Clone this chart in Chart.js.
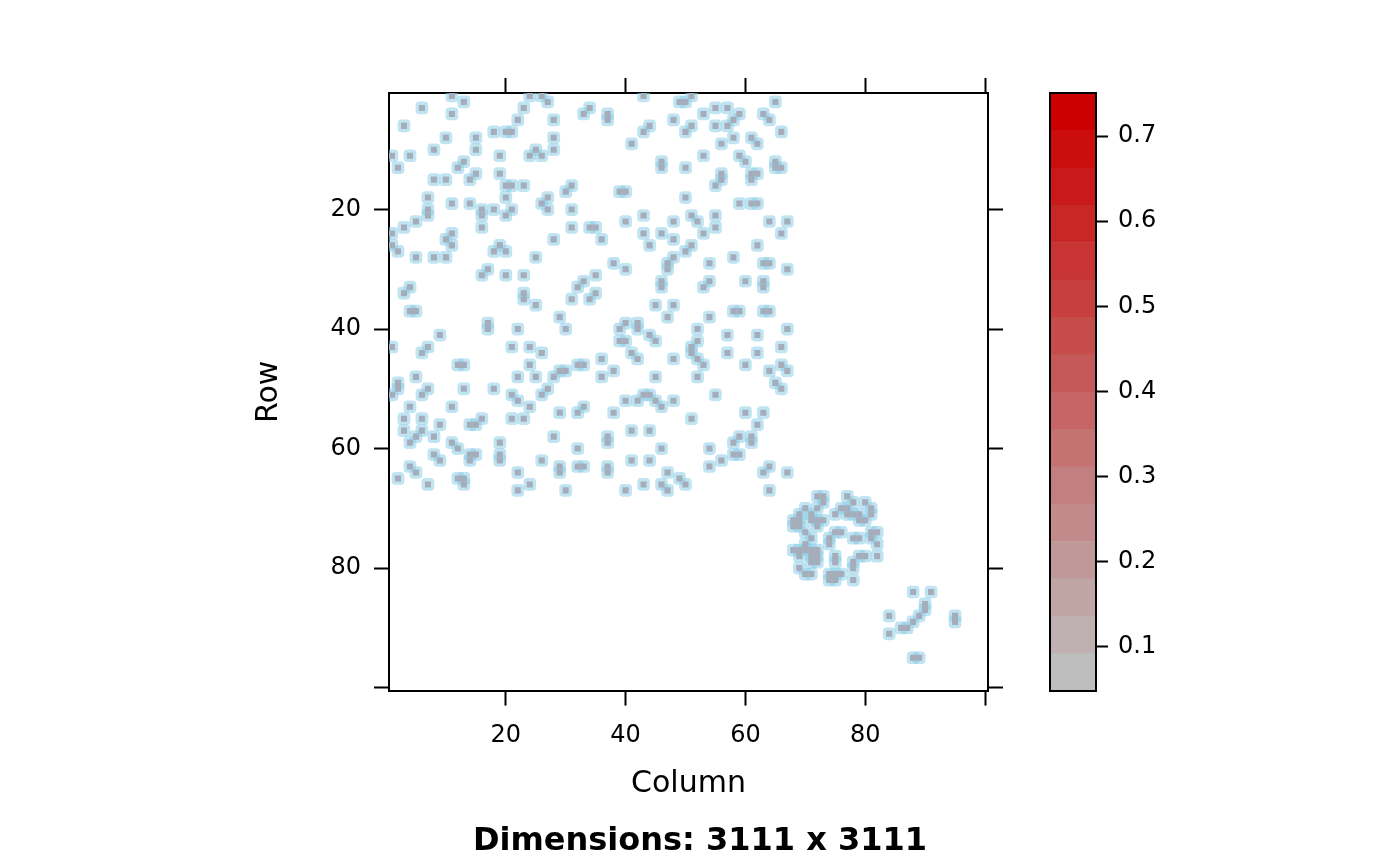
<!DOCTYPE html>
<html>
<head>
<meta charset="utf-8">
<script src="https://cdn.jsdelivr.net/npm/chart.js@4.4.1/dist/chart.umd.min.js"></script>
<style>
  body { margin: 0; background: #fff; }
  #wrap { position: relative; width: 1400px; height: 866px; }
  #matrixChart { position: absolute; left: 0; top: 0; }
  #keyChart { position: absolute; left: 1000px; top: 0; }
</style>
</head>
<body>
<div id="wrap">
  <canvas id="matrixChart" width="1400" height="866"></canvas>
  <canvas id="keyChart" width="200" height="866"></canvas>
</div>
<script>
// axis ticks (rows and columns share them)
const axisTicks = [20, 40, 60, 80, 100];
const axisTickLabels = ['20', '40', '60', '80', ''];

// colour key
const keyBreaks = [0.0483, 0.0922, 0.1361, 0.1800, 0.2238, 0.2677, 0.3116, 0.3555, 0.3994,
  0.4433, 0.4872, 0.5311, 0.5750, 0.6188, 0.6627, 0.7066, 0.7505];
const keyTicks = [0.1, 0.2, 0.3, 0.4, 0.5, 0.6, 0.7];

// non-zero cells as [column, row]
const upperBlock = [
  [11,1],[13,2],[6,3],[11,4],[23,3],[22,5],[3,6],[18,7],[20,7],[21,7],[10,8],[15,8],[8,10],[15,10],
  [1,11],[4,11],[19,11],[2,13],[13,12],[12,13],[15,14],[19,14],[8,15],[10,15],[14,15],[20,16],[21,16],
  [23,16],[7,18],[20,18],[11,19],[14,19],[7,20],[7,21],[16,20],[16,21],[18,20],[21,20],[20,21],[5,22],
  [3,23],[16,23],
  [24,1],[26,1],[27,2],[43,1],[33,4],[34,3],[37,4],[37,5],[28,5],[44,6],[43,7],[28,8],[41,9],[28,10],
  [25,10],[24,11],[26,11],[46,12],[46,13],[31,16],[30,17],[39,17],[40,17],[27,18],[26,19],[27,20],
  [31,20],[43,21],[40,22],[31,23],[34,23],[35,23],
  [49,2],[50,2],[51,1],[65,2],[48,5],[53,4],[55,3],[57,3],[59,4],[58,5],[63,4],[64,5],[51,6],[50,7],
  [55,6],[57,6],[66,7],[58,8],[61,8],[62,9],[56,9],[53,11],[59,11],[60,12],[65,12],[65,13],[66,13],
  [50,13],[56,14],[56,15],[55,16],[61,14],[62,14],[61,15],[50,18],[59,19],[61,19],[62,19],[48,22],
  [51,21],[52,22],[55,21],[55,23],[64,22],[67,22]
];
const middleBlock = [
  [1,24],[1,26],[2,27],[10,25],[11,24],[11,26],[5,28],[8,28],[10,28],[19,26],[18,27],[20,27],[17,30],
  [16,31],[20,31],[23,31],[4,33],[3,34],[23,34],[23,35],[4,37],[5,37],[17,39],[17,40],[22,40],[9,41],
  [1,43],[7,43],[6,44],[21,43],[12,46],[13,46],
  [28,25],[36,25],[43,24],[46,24],[44,26],[25,28],[38,29],[40,30],[35,31],[33,32],[32,33],[35,34],
  [34,35],[31,35],[25,36],[46,32],[46,33],[45,36],[29,38],[30,40],[40,39],[39,40],[42,39],[42,40],
  [44,41],[45,42],[39,42],[40,42],[24,43],[26,44],[41,44],[42,45],[36,45],[24,46],[32,46],[33,46],
  [48,25],[53,24],[66,24],[51,26],[50,27],[62,26],[48,28],[47,29],[47,30],[58,28],[54,29],[63,29],
  [64,29],[67,30],[54,32],[53,33],[60,32],[63,32],[63,33],[48,36],[47,38],[54,38],[58,37],[59,37],
  [63,37],[64,37],[52,40],[67,40],[57,41],[62,41],[52,42],[51,43],[51,44],[52,45],[53,46],[66,43],
  [57,44],[62,44],[48,45],[60,46],[66,46]
];
const lowerBlock = [
  [5,48],[2,49],[2,50],[1,51],[7,50],[6,51],[13,50],[18,50],[22,48],[21,51],[22,52],[4,53],[11,53],
  [3,55],[3,57],[6,55],[6,57],[9,56],[14,56],[15,56],[16,55],[21,55],[23,55],[5,58],[4,59],[8,58],
  [11,59],[12,60],[19,59],[19,61],[19,62],[8,61],[9,62],[14,61],[15,61],[14,62],[4,63],[5,64],[2,65],
  [12,65],[13,65],[13,66],[7,66],[22,64],[22,67],
  [25,48],[28,48],[29,47],[30,47],[36,48],[38,47],[45,48],[27,50],[26,51],[40,52],[42,52],[43,51],
  [44,51],[45,52],[46,53],[24,53],[29,54],[32,54],[33,53],[38,54],[41,57],[44,57],[28,58],[37,58],
  [37,59],[32,60],[46,60],[26,62],[29,63],[29,64],[32,63],[33,63],[37,63],[37,64],[41,62],[44,62],
  [24,66],[30,67],[40,67],[43,66],[46,66],
  [64,47],[67,47],[52,48],[65,49],[66,50],[55,51],[48,52],[51,55],[60,54],[63,54],[62,56],[59,58],
  [58,59],[61,58],[61,59],[58,61],[59,61],[54,60],[56,62],[54,63],[47,64],[49,65],[50,66],[47,67],
  [64,63],[63,64],[67,64],[64,67]
];
const clusterBlock = [
  [72,68],[73,68],[73,69],[72,70],[71,71],[70,70],[69,71],[68,72],[69,72],[68,73],[69,73],[71,72],
  [72,72],[73,72],[72,73],[70,74],
  [77,68],[78,69],[80,69],[81,70],[76,70],[77,70],[75,71],[77,71],[78,71],[79,71],[81,71],[79,72],[80,72],
  [74,75],[75,74],[76,74],[74,76],[78,75],[79,75],[81,74],[82,74],[81,75],[82,76],
  [71,75],[70,76],[68,77],[69,77],[70,77],[71,77],[72,77],[69,78],[71,78],[72,78],[71,79],[72,79],
  [69,80],[70,81],[71,81],
  [75,78],[75,79],[74,81],[75,81],[76,81],[74,82],[75,82],
  [79,78],[80,78],[82,78],[78,79],[78,80],[78,82]
];
const tailBlock = [
  [88,84],[91,84],[90,86],[90,87],[89,88],[88,89],[86,90],[87,90],[84,88],[84,91],[95,88],[95,89],
  [88,95],[89,95]
];

const FONT = 'DejaVu Sans';
const cells = upperBlock.concat(middleBlock, lowerBlock, clusterBlock, tailBlock)
  .map(([c, r]) => ({ x: c, y: r }));

function setTicks(values) {
  return (scale) => { scale.ticks = values.map(v => ({ value: v })); };
}

function matrixAxis(position, showLabels, size) {
  const horizontal = position === 'top' || position === 'bottom';
  return {
    type: 'linear',
    position: position,
    min: 0.5,
    max: 100.5,
    reverse: !horizontal,
    afterBuildTicks: setTicks(axisTicks),
    afterFit: (scale) => {
      if (horizontal) scale.height = size; else scale.width = size;
    },
    ticks: {
      display: showLabels,
      autoSkip: false,
      maxRotation: 0,
      padding: horizontal ? 16 : 13,
      color: '#000',
      font: { family: FONT, size: 24 },
      callback: (v) => axisTickLabels[axisTicks.indexOf(v)]
    },
    grid: {
      display: true,
      drawOnChartArea: false,
      drawTicks: true,
      tickLength: 15,
      tickColor: '#000',
      tickWidth: 2
    },
    border: { display: true, color: '#000', width: 2 }
  };
}

const xBottom = matrixAxis('bottom', true, 120);
xBottom.title = { display: true, text: 'Column', color: '#000',
  font: { family: FONT, size: 30 }, padding: { top: 0, bottom: 8 } };
const yLeft = matrixAxis('left', true, 389);
yLeft.title = { display: true, text: 'Row', color: '#000',
  font: { family: FONT, size: 30 }, padding: { top: 251, bottom: 0 } };

new Chart(document.getElementById('matrixChart'), {
  type: 'scatter',
  data: {
    datasets: [
      {
        data: cells,
        pointStyle: 'rect',
        pointRadius: 4.3,
        pointBorderWidth: 0,
        pointBackgroundColor: '#a5adba',
        xAxisID: 'x', yAxisID: 'y'
      },
      {
        data: cells,
        pointStyle: 'rectRounded',
        pointRadius: 7.4,
        pointBorderWidth: 0,
        pointBackgroundColor: 'rgba(140, 205, 232, 0.55)',
        xAxisID: 'x', yAxisID: 'y'
      }
    ]
  },
  options: {
    responsive: false,
    animation: false,
    events: [],
    layout: { padding: { left: 0, right: 0, top: 76, bottom: 0 } },
    scales: {
      x: xBottom,
      x2: matrixAxis('top', false, 17),
      y: yLeft,
      y2: matrixAxis('right', false, 412)
    },
    plugins: {
      legend: { display: false },
      tooltip: { enabled: false },
      title: {
        display: true,
        position: 'bottom',
        text: 'Dimensions: 3111 x 3111',
        color: '#000',
        font: { family: FONT, size: 32, weight: 'bold' },
        padding: { top: 12, bottom: 5 }
      }
    }
  }
});

// colour key: one floating bar per band
function bandColor(i, n) {
  const t = i / (n - 1);
  const r = Math.round(190 + (204 - 190) * t);
  const g = Math.round(190 * (1 - t));
  return `rgb(${r}, ${g}, ${g})`;
}

const bandCount = keyBreaks.length - 1;
const keyDatasets = keyBreaks.slice(0, -1).map((lo, i) => ({
  data: [[lo, keyBreaks[i + 1]]],
  backgroundColor: bandColor(i, bandCount),
  borderWidth: 0,
  barPercentage: 1,
  categoryPercentage: 1,
  grouped: false
}));

const keyFrame = {
  id: 'keyFrame',
  afterDraw(chart) {
    const { ctx, chartArea } = chart;
    ctx.save();
    ctx.strokeStyle = '#000';
    ctx.lineWidth = 2;
    ctx.strokeRect(chartArea.left, chartArea.top, chartArea.right - chartArea.left, chartArea.bottom - chartArea.top);
    ctx.restore();
  }
};

new Chart(document.getElementById('keyChart'), {
  type: 'bar',
  data: { labels: [''], datasets: keyDatasets },
  options: {
    responsive: false,
    animation: false,
    events: [],
    layout: { padding: { left: 50, right: 0, top: 93, bottom: 175 } },
    scales: {
      x: { display: false },
      y: {
        position: 'right',
        min: keyBreaks[0],
        max: keyBreaks[keyBreaks.length - 1],
        afterBuildTicks: setTicks(keyTicks),
        afterFit: (scale) => { scale.width = 104; },
        ticks: {
          padding: 10,
          color: '#000',
          font: { family: FONT, size: 24 },
          callback: (v) => v.toFixed(1)
        },
        grid: { drawOnChartArea: false, drawTicks: true, tickLength: 12, tickColor: '#000', tickWidth: 2 },
        border: { display: true, color: '#000', width: 2 }
      }
    },
    plugins: { legend: { display: false }, tooltip: { enabled: false } }
  },
  plugins: [keyFrame]
});
</script>
</body>
</html>
